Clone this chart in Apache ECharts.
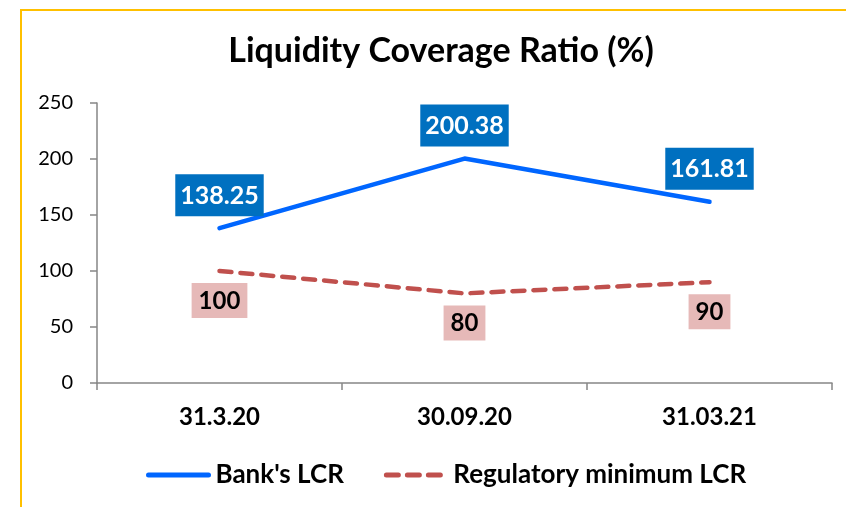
<!DOCTYPE html>
<html>
<head>
<meta charset="utf-8">
<script src="https://cdn.jsdelivr.net/npm/echarts@6/dist/echarts.min.js"></script>
<style>
  html, body { margin: 0; padding: 0; background: #fff; }
  #chart { width: 846px; height: 507px; }
</style>
</head>
<body>
<div id="chart"></div>
<script>
// chart data
const categories = ['31.3.20', '30.09.20', '31.03.21'];
const bankLcr = [138.25, 200.38, 161.81];
const regMinLcr = [100, 80, 90];
const yTicks = [0, 50, 100, 150, 200, 250];

const font = 'Lato';
const chart = echarts.init(document.getElementById('chart'));

const option = {
  animation: false,
  backgroundColor: '#fff',
  textStyle: { fontFamily: font },
  // yellow frame, only top/left edges are inside the picture
  graphic: [
    {
      type: 'rect',
      shape: { x: 21, y: 10, width: 900, height: 600 },
      style: { fill: 'none', stroke: '#FFC000', lineWidth: 2 },
      silent: true
    }
  ],
  title: {
    text: 'Liquidity Coverage Ratio (%)',
    left: 436,
    top: 29,
    textAlign: 'center',
    textStyle: { fontFamily: font, fontWeight: 'bold', fontSize: 34, color: '#000' }
  },
  legend: {
    bottom: 14,
    left: 141,
    itemWidth: 60,
    itemHeight: 14,
    itemGap: 40,
    itemStyle: { opacity: 0 },
    lineStyle: { width: 5, cap: 'round' },
    textStyle: { fontFamily: font, fontWeight: 'bold', fontSize: 26, color: '#000', padding: [0, 0, 0, 2] },
    data: ["Bank's LCR", 'Regulatory minimum LCR']
  },
  grid: { left: 97, right: 14, top: 103, bottom: 124, containLabel: false },
  xAxis: {
    type: 'category',
    data: categories,
    axisLine: { lineStyle: { color: '#868686', width: 1.5 } },
    axisTick: { show: true, length: 7, lineStyle: { color: '#868686', width: 1.5 } },
    axisLabel: { margin: 22, fontFamily: font, fontWeight: 'bold', fontSize: 24, color: '#000' }
  },
  yAxis: {
    type: 'value',
    min: yTicks[0],
    max: yTicks[yTicks.length - 1],
    interval: yTicks[1] - yTicks[0],
    axisLine: { show: true, lineStyle: { color: '#868686', width: 1.5 } },
    axisTick: { show: true, length: 7, lineStyle: { color: '#868686', width: 1.5 } },
    splitLine: { show: false },
    axisLabel: { margin: 24, fontFamily: font, fontSize: 20, color: '#000' }
  },
  series: [
    {
      name: "Bank's LCR",
      type: 'line',
      data: bankLcr,
      symbol: 'circle',
      symbolSize: 0,
      showSymbol: true,
      color: '#0066FF',
      lineStyle: { color: '#0066FF', width: 4.5, cap: 'round' },
      label: {
        show: true,
        position: 'top',
        distance: 12,
        formatter: p => p.value.toFixed(2),
        backgroundColor: '#0070C0',
        color: '#fff',
        fontFamily: font,
        fontWeight: 'bold',
        fontSize: 25,
        padding: [9, 5, 8, 5]
      }
    },
    {
      name: 'Regulatory minimum LCR',
      type: 'line',
      data: regMinLcr,
      symbol: 'circle',
      symbolSize: 0,
      showSymbol: true,
      color: '#C0504D',
      lineStyle: { color: '#C0504D', width: 4.5, type: [12, 9], cap: 'round' },
      label: {
        show: true,
        position: 'bottom',
        distance: 12,
        backgroundColor: '#E6B9B8',
        color: '#000',
        fontFamily: font,
        fontWeight: 'bold',
        fontSize: 24,
        padding: [6, 7, 5, 7]
      }
    }
  ]
};

chart.setOption(option);
</script>
</body>
</html>
